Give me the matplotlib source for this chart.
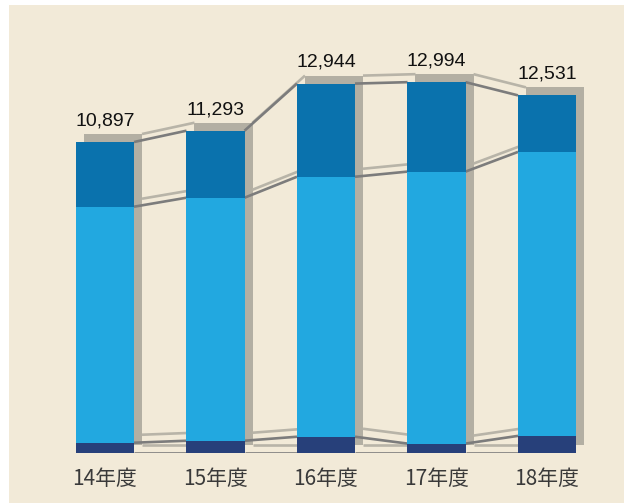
import matplotlib.pyplot as plt
import matplotlib.transforms as mtransforms

years = ["14年度", "15年度", "16年度", "17年度", "18年度"]
totals = [10897, 11293, 12944, 12994, 12531]
bottom_part = [360, 430, 570, 330, 600]
middle_part = [8270, 8515, 9110, 9530, 9950]
top_part = [t - b - m for t, b, m in zip(totals, bottom_part, middle_part)]

c_bottom = "#27407a"
c_middle = "#22a8e0"
c_top = "#0a72ad"
c_shadow = "#b3afa3"
c_line_dark = "#7c7c7c"
c_line_light = "#b8b4a8"
c_bg = "#f2ead8"

fig = plt.figure(figsize=(6.24, 5.03), dpi=100, facecolor="white")
# beige panel with a small white margin on the top and left
bg = fig.add_axes([9 / 624, 0, 615 / 624, 498 / 503])
bg.axis("off")
bg.add_patch(plt.Rectangle((0, 0), 1, 1, transform=bg.transAxes, color=c_bg))

ax = fig.add_axes([9 / 624, 50 / 503, 615 / 624, 448 / 503])
ax.set_facecolor("none")

x = list(range(len(years)))
w = 0.525
# shadow sits 8 px to the right and 8 px up
shadow = ax.transData + mtransforms.ScaledTranslation(0.08, 0.08, fig.dpi_scale_trans)

ax.bar(x, totals, w, color=c_shadow, transform=shadow, zorder=1)

# connecting lines between the segment edges of neighbouring bars
mid_base = bottom_part
top_base = [b + m for b, m in zip(bottom_part, middle_part)]
levels = [[0] * len(x), mid_base, top_base, totals]
for lev in levels:
    for i in range(len(x) - 1):
        xs = [x[i] + w / 2, x[i + 1] - w / 2]
        ys = [lev[i], lev[i + 1]]
        ax.plot(xs, ys, color=c_line_light, lw=1.9, transform=shadow, zorder=2,
                solid_capstyle="butt")
        ax.plot(xs, ys, color=c_line_dark, lw=1.9, zorder=3, solid_capstyle="butt")

ax.bar(x, bottom_part, w, color=c_bottom, zorder=4)
ax.bar(x, middle_part, w, bottom=mid_base, color=c_middle, zorder=4)
ax.bar(x, top_part, w, bottom=top_base, color=c_top, zorder=4)

for xi, t in zip(x, totals):
    ax.annotate(f"{t:,}", (xi, t), xytext=(0, 12), textcoords="offset points",
                ha="center", va="baseline", fontsize=14, family="Liberation Sans",
                color="#111111")

ax.set_xlim((9 - 105) / 110.5, (624 - 105) / 110.5)
ax.set_ylim(0, 448 * 35.04)
ax.set_xticks(x)
ax.set_xticklabels(years, family=["Noto Sans CJK JP", "DejaVu Sans"], fontsize=15,
                   color="#3a3a3a")
ax.tick_params(axis="x", length=0, pad=11)
ax.set_yticks([])
for s in ax.spines.values():
    s.set_visible(False)

fig.savefig("out.png", dpi=100, facecolor="white")
